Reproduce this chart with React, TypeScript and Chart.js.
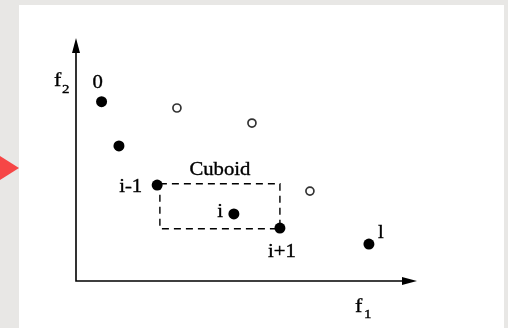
import React, { useEffect, useRef } from "react";
import { Chart, registerables } from "chart.js";

Chart.register(...registerables);

// Non-dominated (filled) points, in objective space (f1, f2)
const frontF1 = [0.75, 1.26, 2.38, 4.63, 5.98, 8.59];
const frontF2 = [7.38, 5.56, 3.95, 2.76, 2.18, 1.52];
const frontLabels = ["0", "", "i-1", "i", "i+1", "l"];

// Dominated (hollow) points
const otherF1 = [2.96, 5.16, 6.86];
const otherF2 = [7.12, 6.5, 3.7];

// Cuboid around point i (bounds in f1, f2)
const cuboidF1 = [2.46, 5.98];
const cuboidF2 = [2.15, 4.0];
const cuboidLabel = "Cuboid";

const axisMax = [10, 10];

const SERIF = "'Liberation Serif', 'Times New Roman', serif";
const STRETCH = 1.15;

function drawText(ctx: CanvasRenderingContext2D, text: string, x: number, y: number, align: "left" | "center" | "right") {
  const w = ctx.measureText(text).width * STRETCH;
  let left = x;
  if (align === "center") left = x - w / 2;
  else if (align === "right") left = x - w;
  ctx.save();
  ctx.translate(left, y);
  ctx.scale(STRETCH, 1);
  ctx.textAlign = "left";
  ctx.textBaseline = "alphabetic";
  ctx.fillText(text, 0, 0);
  ctx.lineWidth = 0.35;
  ctx.strokeText(text, 0, 0);
  ctx.restore();
}

export default function App() {
  const ref = useRef<HTMLCanvasElement | null>(null);

  useEffect(() => {
    const canvas = ref.current;
    if (!canvas) return;

    const decor = {
      id: "decor",
      beforeDraw(chart: any) {
        const ctx = chart.ctx;
        ctx.save();
        ctx.fillStyle = "#e8e7e5";
        ctx.fillRect(0, 0, chart.width, chart.height);
        ctx.fillStyle = "#ffffff";
        ctx.fillRect(19, 5, 485, 323);
        ctx.fillStyle = "#f64646";
        ctx.beginPath();
        ctx.moveTo(0, 156);
        ctx.lineTo(19, 168);
        ctx.lineTo(0, 180);
        ctx.closePath();
        ctx.fill();
        ctx.restore();
      },
      beforeDatasetsDraw(chart: any) {
        const ctx = chart.ctx;
        const xs = chart.scales.x;
        const ys = chart.scales.y;
        const a = chart.chartArea;
        ctx.save();
        // axes
        ctx.strokeStyle = "#000";
        ctx.fillStyle = "#000";
        ctx.lineWidth = 1.6;
        ctx.beginPath();
        ctx.moveTo(a.left, a.top + 8);
        ctx.lineTo(a.left, a.bottom);
        ctx.lineTo(a.right - 8, a.bottom);
        ctx.stroke();
        // arrows
        ctx.beginPath();
        ctx.moveTo(a.left, a.top);
        ctx.lineTo(a.left - 4, a.top + 15);
        ctx.lineTo(a.left + 4, a.top + 15);
        ctx.closePath();
        ctx.fill();
        ctx.beginPath();
        ctx.moveTo(a.right, a.bottom);
        ctx.lineTo(a.right - 15, a.bottom - 4);
        ctx.lineTo(a.right - 15, a.bottom + 4);
        ctx.closePath();
        ctx.fill();

        // cuboid
        const x0 = xs.getPixelForValue(cuboidF1[0]);
        const x1 = xs.getPixelForValue(cuboidF1[1]);
        const y0 = ys.getPixelForValue(cuboidF2[1]);
        const y1 = ys.getPixelForValue(cuboidF2[0]);
        ctx.setLineDash([7, 5]);
        ctx.lineWidth = 1.4;
        ctx.strokeRect(x0, y0, x1 - x0, y1 - y0);
        ctx.setLineDash([]);

        // texts
        ctx.font = `18px ${SERIF}`;
        drawText(ctx, cuboidLabel, (x0 + x1) / 2, y0 - 9, "center");

        const offsets: Record<string, [number, number, "left" | "center" | "right"]> = {
          "0": [-4, -14, "center"],
          "i-1": [-15, 7, "right"],
          i: [-11, 3, "right"],
          "i+1": [2, 29, "center"],
          l: [9, -6, "left"],
        };
        frontLabels.forEach((lab, k) => {
          if (!lab) return;
          const px = xs.getPixelForValue(frontF1[k]);
          const py = ys.getPixelForValue(frontF2[k]);
          const o = offsets[lab];
          drawText(ctx, lab, px + o[0], py + o[1], o[2]);
        });

        // axis titles
        ctx.font = `19px ${SERIF}`;
        drawText(ctx, "f", 54, 86, "left");
        drawText(ctx, "f", 355, 312, "left");
        ctx.font = `13px ${SERIF}`;
        drawText(ctx, "2", 62, 93, "left");
        drawText(ctx, "1", 364, 318, "left");
        ctx.restore();
      },
    };

    const chart = new Chart(canvas, {
      type: "scatter",
      data: {
        datasets: [
          {
            label: "front",
            data: frontF1.map((x, i) => ({ x, y: frontF2[i] })),
            pointRadius: 5.5,
            pointBackgroundColor: "#000",
            pointBorderColor: "#000",
            pointBorderWidth: 0,
          },
          {
            label: "others",
            data: otherF1.map((x, i) => ({ x, y: otherF2[i] })),
            pointRadius: 4,
            pointBackgroundColor: "#fff",
            pointBorderColor: "#333",
            pointBorderWidth: 1.7,
          },
        ],
      },
      options: {
        responsive: false,
        animation: false,
        devicePixelRatio: 1,
        layout: { padding: { left: 76, right: 91, top: 38, bottom: 47 } },
        plugins: {
          legend: { display: false },
          tooltip: { enabled: false },
        },
        scales: {
          x: { type: "linear", min: 0, max: axisMax[0], display: false },
          y: { type: "linear", min: 0, max: axisMax[1], display: false },
        },
      },
      plugins: [decor],
    });
    return () => chart.destroy();
  }, []);

  return (
    <div style={{ position: "fixed", left: 0, top: 0, width: 508, height: 328, background: "#e8e7e5" }}>
      <canvas ref={ref} width={508} height={328} style={{ display: "block" }} />
    </div>
  );
}
